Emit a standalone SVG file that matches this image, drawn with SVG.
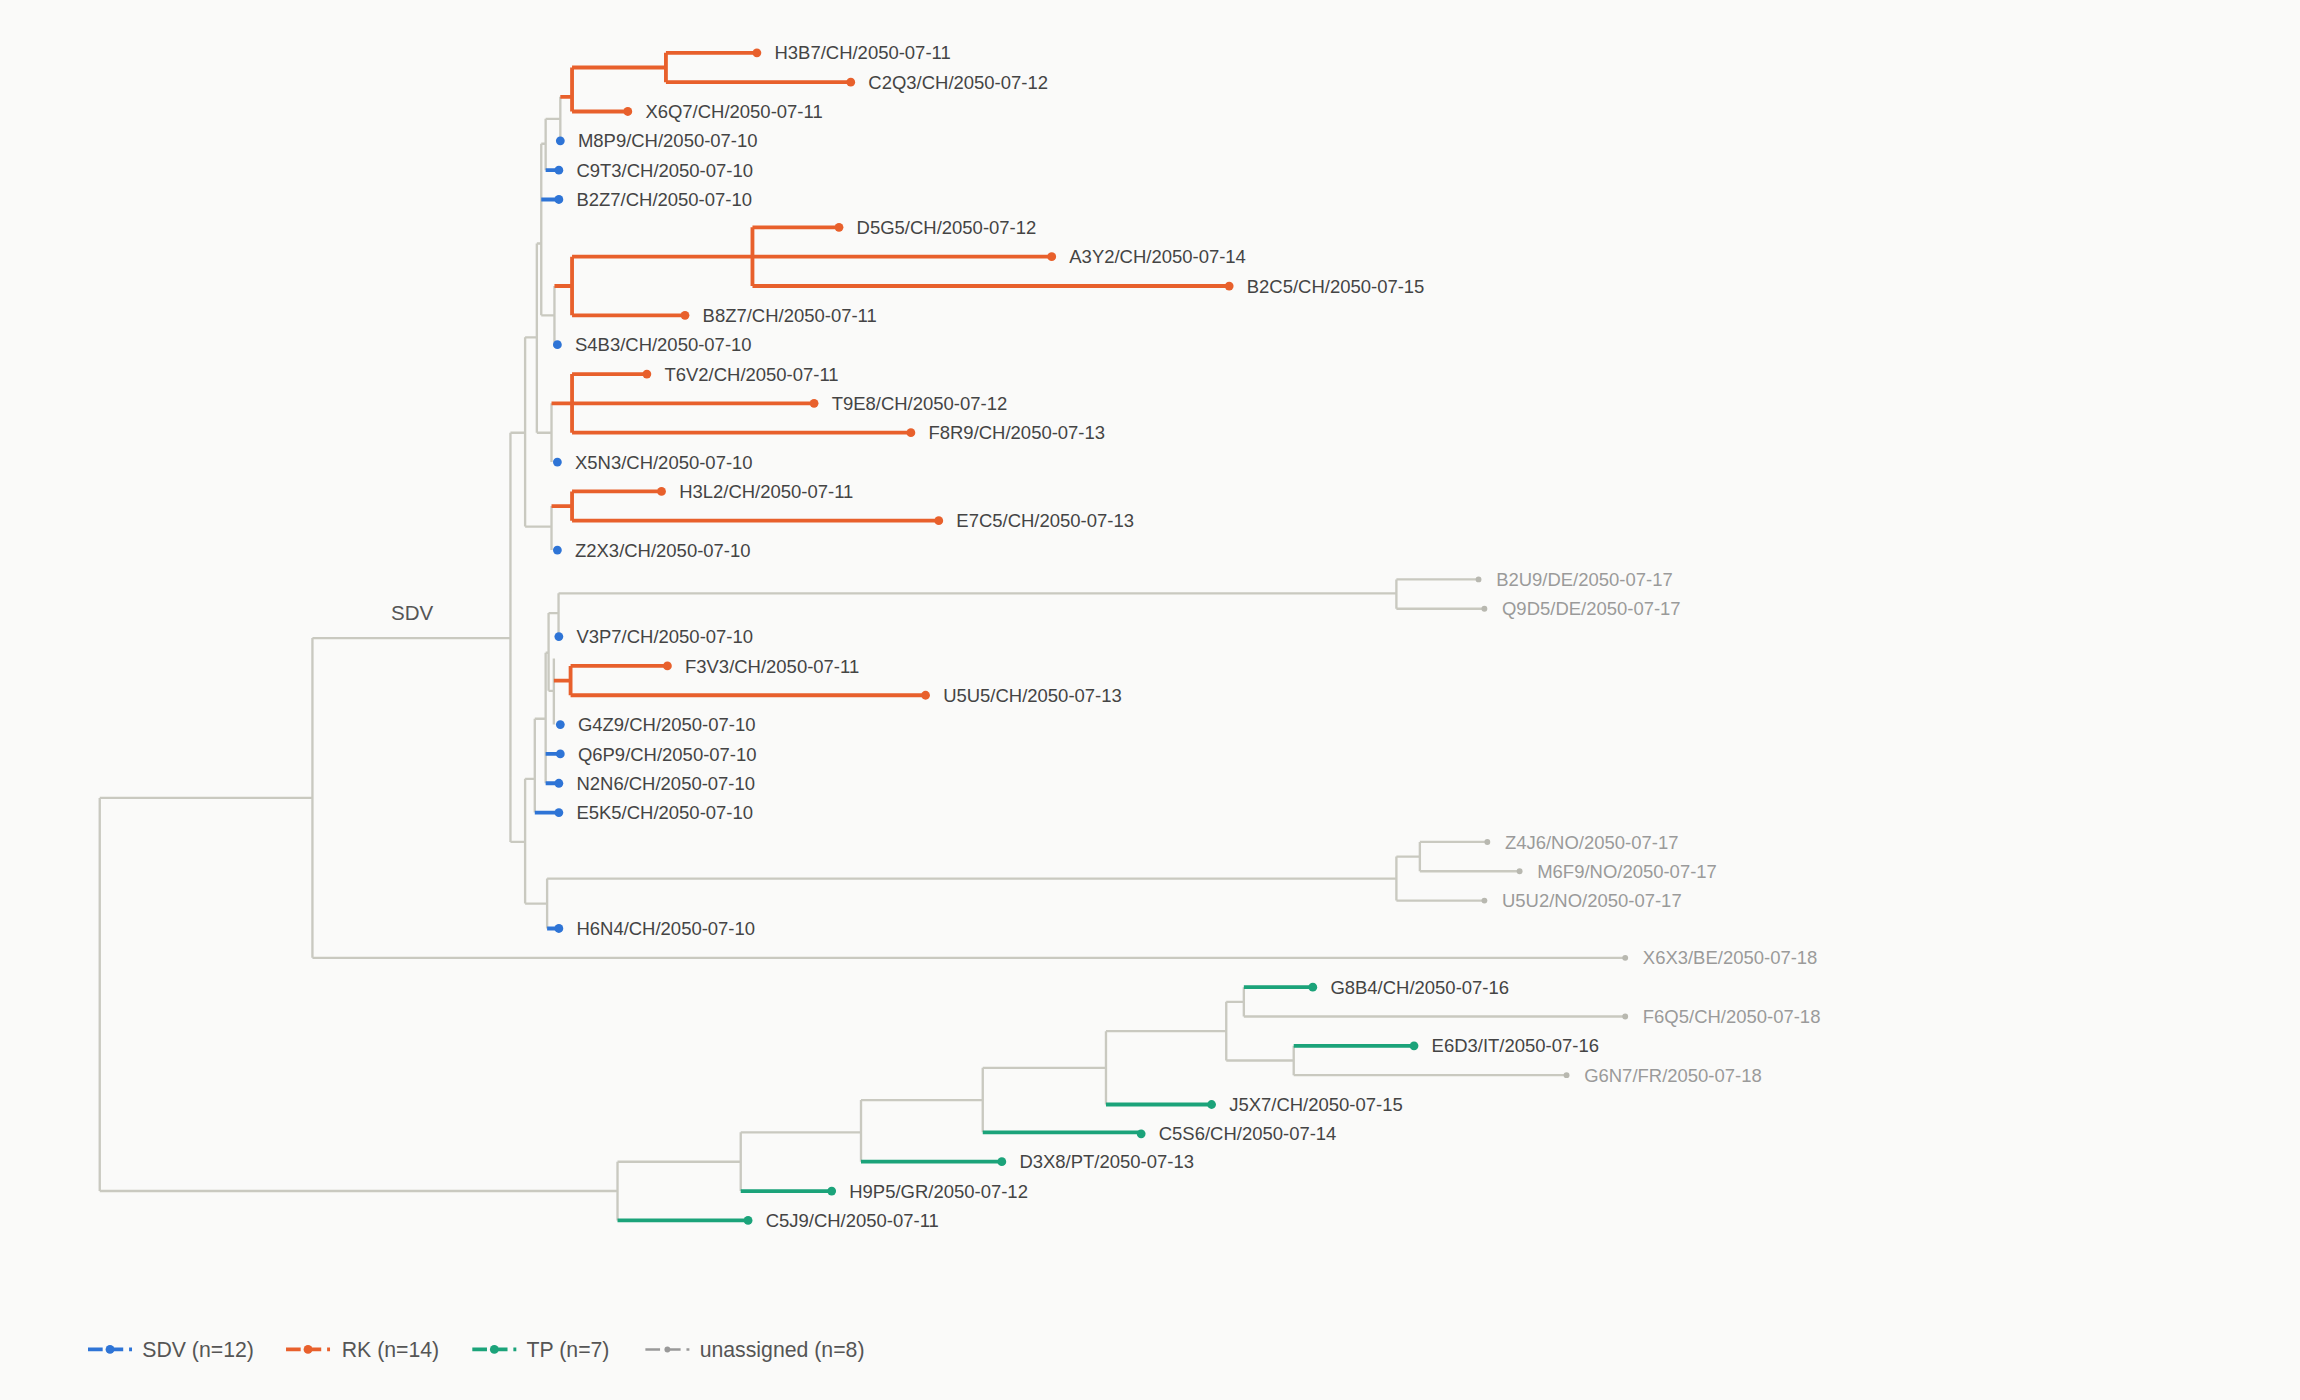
<svg xmlns="http://www.w3.org/2000/svg" width="2300" height="1400" viewBox="0 0 2300 1400">
<style>
.g{fill:none;stroke:#c9c9c0;stroke-width:1.6}
.o{fill:none;stroke:#e8602c;stroke-width:2.6}
.b{fill:none;stroke:#2e74d6;stroke-width:2.6}
.t{fill:none;stroke:#1ba37a;stroke-width:2.6}
text{font-family:"Liberation Sans",Arial,sans-serif;font-size:12.6px;fill:#444}
.u text{fill:#9a9a9a}
.dO{fill:#e8602c}.dB{fill:#2e74d6}.dT{fill:#1ba37a}.dG{fill:#b8b8b0}
.lg{font-size:14.5px;fill:#555}
</style>
<rect width="2300" height="1400" fill="#fafaf9"/>
<g transform="scale(1.4668)">
<g id="connectors">
<path class="g" d="M68,544V812M68,544H213M213,435V653M213,435H348M213,653H1108M68,812H421M421,792V832M421,792H505M505,772V812M505,772H587M587,750V792M587,750H670M670,728V772M670,728H754M754,703V753M754,703H836M836,683V723M836,683H848M836,723H882M848,673V693M848,693H1108M882,713V733M882,733H1068"/>
<path class="g" d="M348,295V574M348,295H358M358,230V359M358,230H366M358,359H376M376,345V375M366,166V295M366,166H369M366,295H376M376,275V315M369,98V215M369,98H372M369,215H378M378,195V235M372,81V116M372,81H382M382,66V96M348,574H358M358,531V616M358,531H364.6M358,616H373M373,599V633M373,599H952M952,584V614M952,584H968M968,574V594M968,574H1014M968,594H1036M952,614H1012M364.6,490V554M364.6,490H372M372,445V534M372,445H374M374,418V471M374,418H380.8M374,471H377.6M380.8,404.5V434M380.8,404.5H952M952,395V415M952,395H1008M952,415H1012M377.6,449V494"/>
<path class="o" d="M382,66H390M390,46V76M390,46H454M454,36V56M454,36H516M454,56H580M390,76H428M378,195H390M390,175V215M390,175H717M513,155V195M513,155H572M513,195H838M390,215H467M376,275H390M390,255V295M390,255H441M390,275H555M390,295H621M376,345H390M390,335V355M390,335H451M390,355H640M377.6,464H389M389,454V474M389,454H455M389,474H631"/>
<path class="b" d="M372,116H381M369,136H381M372,514H381M372,534H381M364.6,554H381M373,633H381"/>
<path class="t" d="M421,832H510M505,812H567M587,792H683M670,772H778M754,753H826M848,673H895M882,713H964"/>
</g>
<text x="281" y="423" text-anchor="middle" style="font-size:14px;fill:#555">SDV</text>
<g id="H3B7"><circle class="dO" cx="516" cy="36" r="3"/><text x="528" y="40.5">H3B7/CH/2050-07-11</text></g>
<g id="C2Q3"><circle class="dO" cx="580" cy="56" r="3"/><text x="592" y="60.5">C2Q3/CH/2050-07-12</text></g>
<g id="X6Q7"><circle class="dO" cx="428" cy="76" r="3"/><text x="440" y="80.5">X6Q7/CH/2050-07-11</text></g>
<g id="M8P9"><circle class="dB" cx="382" cy="96" r="3"/><text x="394" y="100.5">M8P9/CH/2050-07-10</text></g>
<g id="C9T3"><circle class="dB" cx="381" cy="116" r="3"/><text x="393" y="120.5">C9T3/CH/2050-07-10</text></g>
<g id="B2Z7"><circle class="dB" cx="381" cy="136" r="3"/><text x="393" y="140.5">B2Z7/CH/2050-07-10</text></g>
<g id="D5G5"><circle class="dO" cx="572" cy="155" r="3"/><text x="584" y="159.5">D5G5/CH/2050-07-12</text></g>
<g id="A3Y2"><circle class="dO" cx="717" cy="175" r="3"/><text x="729" y="179.5">A3Y2/CH/2050-07-14</text></g>
<g id="B2C5"><circle class="dO" cx="838" cy="195" r="3"/><text x="850" y="199.5">B2C5/CH/2050-07-15</text></g>
<g id="B8Z7"><circle class="dO" cx="467" cy="215" r="3"/><text x="479" y="219.5">B8Z7/CH/2050-07-11</text></g>
<g id="S4B3"><circle class="dB" cx="380" cy="235" r="3"/><text x="392" y="239.5">S4B3/CH/2050-07-10</text></g>
<g id="T6V2"><circle class="dO" cx="441" cy="255" r="3"/><text x="453" y="259.5">T6V2/CH/2050-07-11</text></g>
<g id="T9E8"><circle class="dO" cx="555" cy="275" r="3"/><text x="567" y="279.5">T9E8/CH/2050-07-12</text></g>
<g id="F8R9"><circle class="dO" cx="621" cy="295" r="3"/><text x="633" y="299.5">F8R9/CH/2050-07-13</text></g>
<g id="X5N3"><circle class="dB" cx="380" cy="315" r="3"/><text x="392" y="319.5">X5N3/CH/2050-07-10</text></g>
<g id="H3L2"><circle class="dO" cx="451" cy="335" r="3"/><text x="463" y="339.5">H3L2/CH/2050-07-11</text></g>
<g id="E7C5"><circle class="dO" cx="640" cy="355" r="3"/><text x="652" y="359.5">E7C5/CH/2050-07-13</text></g>
<g id="Z2X3"><circle class="dB" cx="380" cy="375" r="3"/><text x="392" y="379.5">Z2X3/CH/2050-07-10</text></g>
<g id="B2U9" class="u"><circle class="dG" cx="1008" cy="395" r="2"/><text x="1020" y="399.5">B2U9/DE/2050-07-17</text></g>
<g id="Q9D5" class="u"><circle class="dG" cx="1012" cy="415" r="2"/><text x="1024" y="419.5">Q9D5/DE/2050-07-17</text></g>
<g id="V3P7"><circle class="dB" cx="381" cy="434" r="3"/><text x="393" y="438.5">V3P7/CH/2050-07-10</text></g>
<g id="F3V3"><circle class="dO" cx="455" cy="454" r="3"/><text x="467" y="458.5">F3V3/CH/2050-07-11</text></g>
<g id="U5U5"><circle class="dO" cx="631" cy="474" r="3"/><text x="643" y="478.5">U5U5/CH/2050-07-13</text></g>
<g id="G4Z9"><circle class="dB" cx="382" cy="494" r="3"/><text x="394" y="498.5">G4Z9/CH/2050-07-10</text></g>
<g id="Q6P9"><circle class="dB" cx="382" cy="514" r="3"/><text x="394" y="518.5">Q6P9/CH/2050-07-10</text></g>
<g id="N2N6"><circle class="dB" cx="381" cy="534" r="3"/><text x="393" y="538.5">N2N6/CH/2050-07-10</text></g>
<g id="E5K5"><circle class="dB" cx="381" cy="554" r="3"/><text x="393" y="558.5">E5K5/CH/2050-07-10</text></g>
<g id="Z4J6" class="u"><circle class="dG" cx="1014" cy="574" r="2"/><text x="1026" y="578.5">Z4J6/NO/2050-07-17</text></g>
<g id="M6F9" class="u"><circle class="dG" cx="1036" cy="594" r="2"/><text x="1048" y="598.5">M6F9/NO/2050-07-17</text></g>
<g id="U5U2" class="u"><circle class="dG" cx="1012" cy="614" r="2"/><text x="1024" y="618.5">U5U2/NO/2050-07-17</text></g>
<g id="H6N4"><circle class="dB" cx="381" cy="633" r="3"/><text x="393" y="637.5">H6N4/CH/2050-07-10</text></g>
<g id="X6X3" class="u"><circle class="dG" cx="1108" cy="653" r="2"/><text x="1120" y="657.5">X6X3/BE/2050-07-18</text></g>
<g id="G8B4"><circle class="dT" cx="895" cy="673" r="3"/><text x="907" y="677.5">G8B4/CH/2050-07-16</text></g>
<g id="F6Q5" class="u"><circle class="dG" cx="1108" cy="693" r="2"/><text x="1120" y="697.5">F6Q5/CH/2050-07-18</text></g>
<g id="E6D3"><circle class="dT" cx="964" cy="713" r="3"/><text x="976" y="717.5">E6D3/IT/2050-07-16</text></g>
<g id="G6N7" class="u"><circle class="dG" cx="1068" cy="733" r="2"/><text x="1080" y="737.5">G6N7/FR/2050-07-18</text></g>
<g id="J5X7"><circle class="dT" cx="826" cy="753" r="3"/><text x="838" y="757.5">J5X7/CH/2050-07-15</text></g>
<g id="C5S6"><circle class="dT" cx="778" cy="773" r="3"/><text x="790" y="777.5">C5S6/CH/2050-07-14</text></g>
<g id="D3X8"><circle class="dT" cx="683" cy="792" r="3"/><text x="695" y="796.5">D3X8/PT/2050-07-13</text></g>
<g id="H9P5"><circle class="dT" cx="567" cy="812" r="3"/><text x="579" y="816.5">H9P5/GR/2050-07-12</text></g>
<g id="C5J9"><circle class="dT" cx="510" cy="832" r="3"/><text x="522" y="836.5">C5J9/CH/2050-07-11</text></g>
<g id="legend">
<path class="b" d="M60,920H90" stroke-dasharray="10 4"/><circle class="dB" cx="75" cy="920" r="3"/><text class="lg" x="97" y="925">SDV (n=12)</text>
<path class="o" d="M195,920H225" stroke-dasharray="10 4"/><circle class="dO" cx="210" cy="920" r="3"/><text class="lg" x="233" y="925">RK (n=14)</text>
<path class="t" d="M322,920H352" stroke-dasharray="10 4"/><circle class="dT" cx="337" cy="920" r="3"/><text class="lg" x="359" y="925">TP (n=7)</text>
<path class="g" d="M440,920H470" stroke="#999" style="stroke:#999" stroke-dasharray="10 4"/><circle cx="455" cy="920" r="2" fill="#999"/><text class="lg" x="477" y="925">unassigned (n=8)</text>
</g>
</g>
</svg>
